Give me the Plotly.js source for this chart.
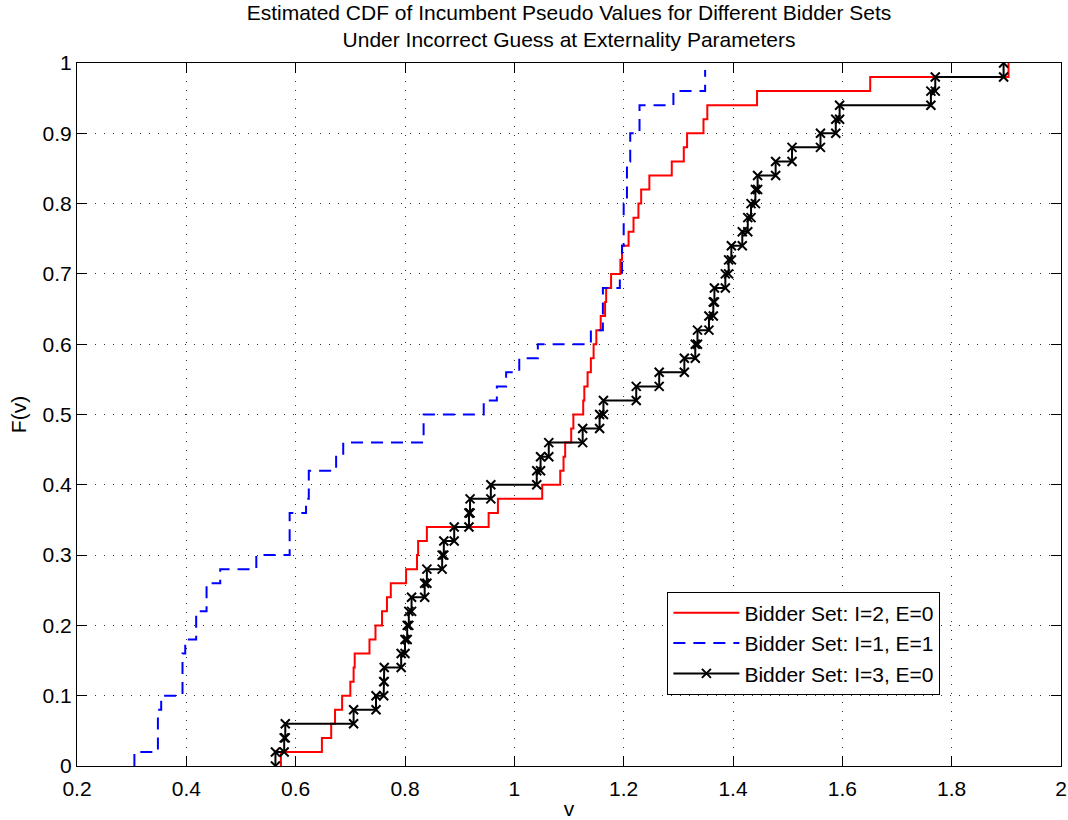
<!DOCTYPE html>
<html>
<head>
<meta charset="utf-8">
<script src="https://cdn.plot.ly/plotly-3.0.1.min.js"></script>
<style>html,body{margin:0;padding:0;background:#fff;}#chart{width:1068px;height:820px;}</style>
</head>
<body>
<div id="chart"></div>
<script>
// Bidder Set: I=2, E=0 (sample values and ECDF levels)
const redX = [0.573,0.648,0.665,0.672,0.685,0.700,0.706,0.708,0.735,0.746,0.758,0.767,0.774,0.802,0.822,0.824,0.840,0.953,0.970,1.051,1.084,1.090,1.093,1.104,1.108,1.126,1.128,1.134,1.140,1.145,1.150,1.158,1.166,1.168,1.177,1.194,1.197,1.209,1.218,1.227,1.232,1.247,1.288,1.310,1.316,1.346,1.353,1.444,1.651,1.904];
const redF = [0.02,0.04,0.06,0.08,0.10,0.12,0.14,0.16,0.18,0.20,0.22,0.24,0.26,0.28,0.30,0.32,0.34,0.36,0.38,0.40,0.42,0.44,0.46,0.48,0.50,0.52,0.54,0.56,0.58,0.60,0.62,0.64,0.66,0.68,0.70,0.72,0.74,0.76,0.78,0.80,0.82,0.84,0.86,0.88,0.90,0.92,0.94,0.96,0.98,1.00];

// Bidder Set: I=1, E=1
const blueX = [0.305,0.348,0.354,0.393,0.398,0.418,0.437,0.462,0.528,0.589,0.619,0.624,0.674,0.687,0.834,0.944,0.968,0.985,1.009,1.043,1.140,1.162,1.193,1.197,1.200,1.206,1.212,1.229,1.291,1.349];
const blueF = [0.02,0.08,0.10,0.16,0.18,0.22,0.26,0.28,0.30,0.36,0.38,0.42,0.44,0.46,0.50,0.52,0.54,0.56,0.58,0.60,0.62,0.68,0.70,0.74,0.80,0.86,0.90,0.94,0.96,0.99];

// Bidder Set: I=3, E=0
const blackX = [0.563,0.579,0.581,0.706,0.747,0.761,0.762,0.793,0.800,0.804,0.807,0.812,0.836,0.840,0.868,0.871,0.890,0.917,0.919,0.957,1.041,1.048,1.063,1.125,1.156,1.163,1.223,1.265,1.311,1.331,1.335,1.356,1.364,1.366,1.386,1.392,1.397,1.417,1.427,1.433,1.441,1.445,1.478,1.508,1.560,1.588,1.595,1.762,1.770,1.895];
const blackF = [0.02,0.04,0.06,0.08,0.10,0.12,0.14,0.16,0.18,0.20,0.22,0.24,0.26,0.28,0.30,0.32,0.34,0.36,0.38,0.40,0.42,0.44,0.46,0.48,0.50,0.52,0.54,0.56,0.58,0.60,0.62,0.64,0.66,0.68,0.70,0.72,0.74,0.76,0.78,0.80,0.82,0.84,0.86,0.88,0.90,0.92,0.94,0.96,0.98,1.00];

const seriesNames = ['Bidder Set: I=2, E=0','Bidder Set: I=1, E=1','Bidder Set: I=3, E=0'];
const titleLines = ['Estimated CDF of Incumbent Pseudo Values for Different Bidder Sets','Under Incorrect Guess at Externality Parameters'];

// stair vertices like MATLAB stairs(ecdf)
function stairs(xs, fs) {
  const X = [], Y = [];
  let prev = 0;
  for (let i = 0; i < xs.length; i++) {
    X.push(xs[i], xs[i]);
    Y.push(prev, fs[i]);
    prev = fs[i];
  }
  return {x: X, y: Y};
}

const r = stairs(redX, redF), b = stairs(blueX, blueF), k = stairs(blackX, blackF);
const FONT = 'Liberation Sans, Arial, Helvetica, sans-serif';

const traces = [
  {x: r.x, y: r.y, mode: 'lines', name: seriesNames[0], line: {color: '#ff0000', width: 2}},
  {x: b.x, y: b.y, mode: 'lines', name: seriesNames[1], line: {color: '#0000ff', width: 2, dash: '12px,8px'}},
  {x: k.x, y: k.y, mode: 'lines+markers', name: seriesNames[2], line: {color: '#000000', width: 2},
   marker: {symbol: 'x-thin', size: 9, color: '#000', line: {color: '#000', width: 2}}}
];

const axBase = {
  showline: true, mirror: 'allticks', linecolor: '#000', linewidth: 1,
  ticks: 'inside', ticklen: 10, tickcolor: '#000', tickwidth: 1,
  showgrid: true, gridcolor: '#333', gridwidth: 1, griddash: '1px,8px',
  zeroline: false, tickfont: {family: FONT, size: 21, color: '#000'}
};

const layout = {
  width: 1068, height: 820,
  paper_bgcolor: '#fff', plot_bgcolor: '#fff',
  margin: {l: 77, r: 7, t: 63, b: 54},
  font: {family: FONT, color: '#000'},
  title: {text: titleLines.join('<br>'), font: {family: FONT, size: 21, color: '#000'},
          x: 0.5, xref: 'paper', xanchor: 'center', y: 0.976, yref: 'container', yanchor: 'top'},
  xaxis: Object.assign({}, axBase, {range: [0.2, 2], dtick: 0.2, tick0: 0.2, ticklabelstandoff: 4,
          title: {text: 'v', font: {family: FONT, size: 21}, standoff: 6}}),
  yaxis: Object.assign({}, axBase, {range: [0, 1], dtick: 0.1, tick0: 0,
          title: {text: 'F(v)', font: {family: FONT, size: 21}, standoff: 10}}),
  showlegend: true,
  legend: {x: 0.600, y: 0.248, xanchor: 'left', yanchor: 'top', bgcolor: '#fff',
           bordercolor: '#000', borderwidth: 1, font: {family: FONT, size: 21, color: '#000'},
           itemwidth: 66}
};

Plotly.newPlot('chart', traces, layout, {displayModeBar: false, staticPlot: true});
</script>
</body>
</html>
